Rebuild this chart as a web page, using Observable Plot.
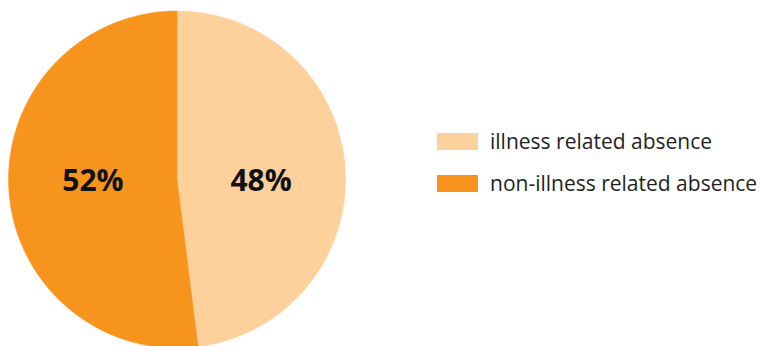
<!DOCTYPE html>
<html>
<head>
<meta charset="utf-8">
<script src="https://cdn.jsdelivr.net/npm/d3@7"></script>
<script src="https://cdn.jsdelivr.net/npm/@observablehq/plot@0.6"></script>
<style>
  html, body { margin: 0; padding: 0; background: #fff; }
  #wrap { position: relative; width: 760px; height: 346px; overflow: hidden; }
  #legend { position: absolute; left: 437px; top: 120px; font-family: "Open Sans", sans-serif; font-size: 21px; color: #231f20; }
  .item { display: flex; align-items: center; height: 42px; }
  .sw { width: 41px; height: 17px; margin-right: 12px; }
</style>
</head>
<body>
<div id="wrap"><div id="chart"></div><div id="legend"></div></div>
<script>
const categories = ["illness related absence", "non-illness related absence"];
const values = [48, 52];
const labels = ["48%", "52%"];
const colors = ["#fdd09c", "#f7941e"];

const pie = d3.pie().sort(null).value(d => d)(values);

// polygon outlines for each slice in unit-circle coordinates
const slicePts = [];
pie.forEach((p, i) => {
  slicePts.push({cat: categories[i], x: 0, y: 0});
  const steps = 180;
  for (let k = 0; k <= steps; k++) {
    const a = p.startAngle + (p.endAngle - p.startAngle) * k / steps;
    slicePts.push({cat: categories[i], x: Math.sin(a), y: Math.cos(a)});
  }
  slicePts.push({cat: categories[i], x: 0, y: 0});
});
const labelData = pie.map((p, i) => {
  const m = (p.startAngle + p.endAngle) / 2;
  return {label: labels[i], x: 0.5 * Math.sin(m), y: 0};
});

const chart = Plot.plot({
  width: 760,
  height: 346,
  x: {domain: [-1, 1], range: [8, 345], axis: null},
  y: {domain: [-1, 1], range: [347.5, 10.5], axis: null},
  color: {domain: categories, range: colors},
  marks: [
    Plot.line(slicePts, {x: "x", y: "y", z: "cat", fill: "cat", stroke: "cat", strokeWidth: 0.5, curve: "linear"}),
    Plot.text(labelData, {x: "x", y: "y", text: "label", fontSize: 30, fontWeight: "bold", fill: "#111", dy: 2, fontFamily: "Open Sans"})
  ]
});
chart.style.fontFamily = "Open Sans, sans-serif";
document.getElementById("chart").appendChild(chart);

const lg = document.getElementById("legend");
categories.forEach((c, i) => {
  const it = document.createElement("div");
  it.className = "item";
  it.innerHTML = `<div class="sw" style="background:${colors[i]}"></div><span>${c}</span>`;
  lg.appendChild(it);
});
</script>
</body>
</html>
